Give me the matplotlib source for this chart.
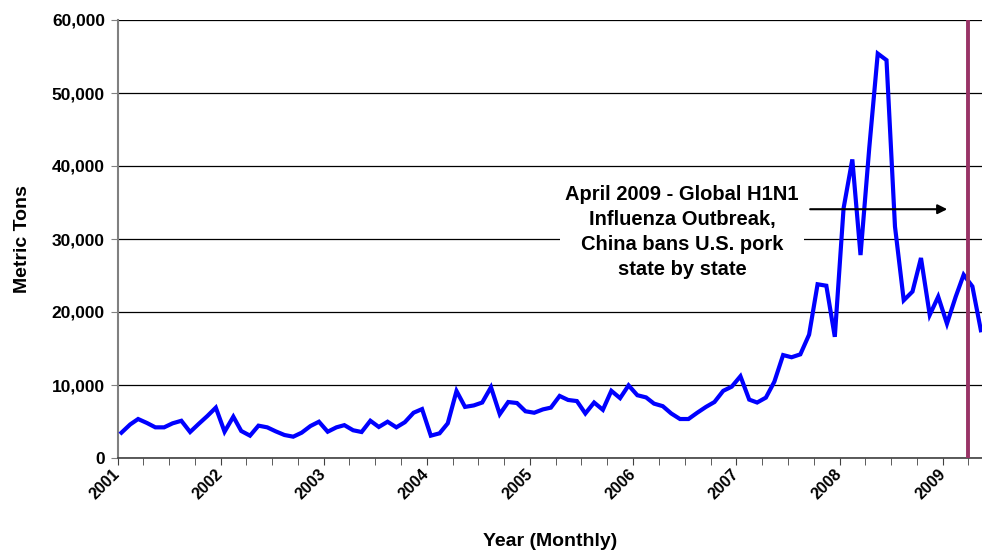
import numpy as np
import pandas as pd
import matplotlib
matplotlib.use("Agg")
import matplotlib.pyplot as plt
import matplotlib.dates as mdates
from matplotlib.ticker import FuncFormatter

plt.rcParams['font.family'] = ['Liberation Sans', 'DejaVu Sans']

# ====================== DATA ======================
# monthly exports, Jan 2001 - May 2009 (metric tons)
tons = [
    3470, 4600, 5340, 4800, 4200, 4200, 4750, 5100, 3560, 4660, 5750, 6900,      # 2001
    3600, 5660, 3700, 3060, 4430, 4200, 3650, 3150, 2920, 3470, 4380, 4970,      # 2002
    3600, 4200, 4500, 3800, 3560, 5100, 4250, 4970, 4200, 4900, 6200, 6700,      # 2003
    3060, 3380, 4750, 9180, 7000, 7200, 7600, 9700, 6000, 7670, 7530, 6400,      # 2004
    6200, 6660, 6900, 8500, 7950, 7800, 6100, 7600, 6600, 9200, 8200, 9950,      # 2005
    8600, 8300, 7450, 7100, 6100, 5340, 5340, 6200, 7000, 7670, 9200, 9770,      # 2006
    11200, 8000, 7600, 8270, 10450, 14100, 13800, 14200, 16900, 23800, 23600, 16600,  # 2007
    34200, 40900, 27800, 42500, 55400, 54500, 31700, 21600, 22800, 27400, 19600, 22100,  # 2008
    18400, 22100, 25100, 23500, 17500,                                          # 2009
]
months = pd.date_range('2001-01-01', periods=len(tons), freq='MS') + pd.Timedelta(days=14)
years = list(range(2001, 2010))
event_date = pd.Timestamp('2009-04-01')
event_text = ('April 2009 - Global H1N1\nInfluenza Outbreak,\n'
              'China bans U.S. pork\nstate by state')

# ====================== PLOT ======================
fig = plt.figure(figsize=(9.82, 5.54), dpi=100)
ax = fig.add_axes([117.5 / 982, 1 - 458 / 554, 864.5 / 982, 438 / 554])

ax.plot(months, tons, color='#0000FF', linewidth=3.0, solid_joinstyle='miter', zorder=3)
ax.axvline(event_date, color='#993366', linewidth=2.8, zorder=4)

ax.set_xlim(pd.Timestamp('2001-01-01'), pd.Timestamp('2009-05-19'))
ax.set_ylim(0, 60000)
ax.set_yticks(np.arange(0, 60001, 10000))
ax.yaxis.set_major_formatter(FuncFormatter(lambda v, p: f'{int(v):,}'))
ax.grid(axis='y', color='black', linewidth=0.9, zorder=1)

ax.set_xticks([pd.Timestamp(f'{y}-01-01') for y in years])
ax.set_xticklabels([str(y) for y in years], rotation=45, ha='right', va='center',
                   rotation_mode='anchor', fontsize=11.5, fontweight='bold')
ax.xaxis.set_minor_locator(mdates.MonthLocator(bymonth=[4, 7, 10]))

for lab in ax.get_yticklabels():
    lab.set_fontweight('bold')
ax.tick_params(axis='y', labelsize=12.5, length=5, direction='out', color='#808080', pad=4)
ax.tick_params(axis='x', which='both', length=5, direction='out', color='#404040', pad=5)

for s in ['top', 'right']:
    ax.spines[s].set_visible(False)
ax.spines['left'].set_color('#808080')
ax.spines['left'].set_linewidth(1.5)
ax.spines['bottom'].set_color('#404040')
ax.spines['bottom'].set_linewidth(1.2)

ax.set_ylabel('Metric Tons', fontsize=14, fontweight='bold')
ax.yaxis.set_label_coords(-0.1, 0.5)
ax.set_xlabel('Year (Monthly)', fontsize=14, fontweight='bold')
ax.xaxis.set_label_coords(0.5, -0.171)

# Annotazione evento
ax.text(0.653, 0.517, event_text, transform=ax.transAxes, ha='center', va='center',
        fontsize=14.5, fontweight='bold', linespacing=1.4, zorder=5,
        bbox=dict(facecolor='white', edgecolor='none', pad=4))
ax.annotate('', xy=(0.963, 0.568), xytext=(0.798, 0.568), xycoords='axes fraction',
            arrowprops=dict(arrowstyle='-|>', color='black', lw=1.5, mutation_scale=14),
            zorder=5)

plt.savefig('out.png', dpi=100)
